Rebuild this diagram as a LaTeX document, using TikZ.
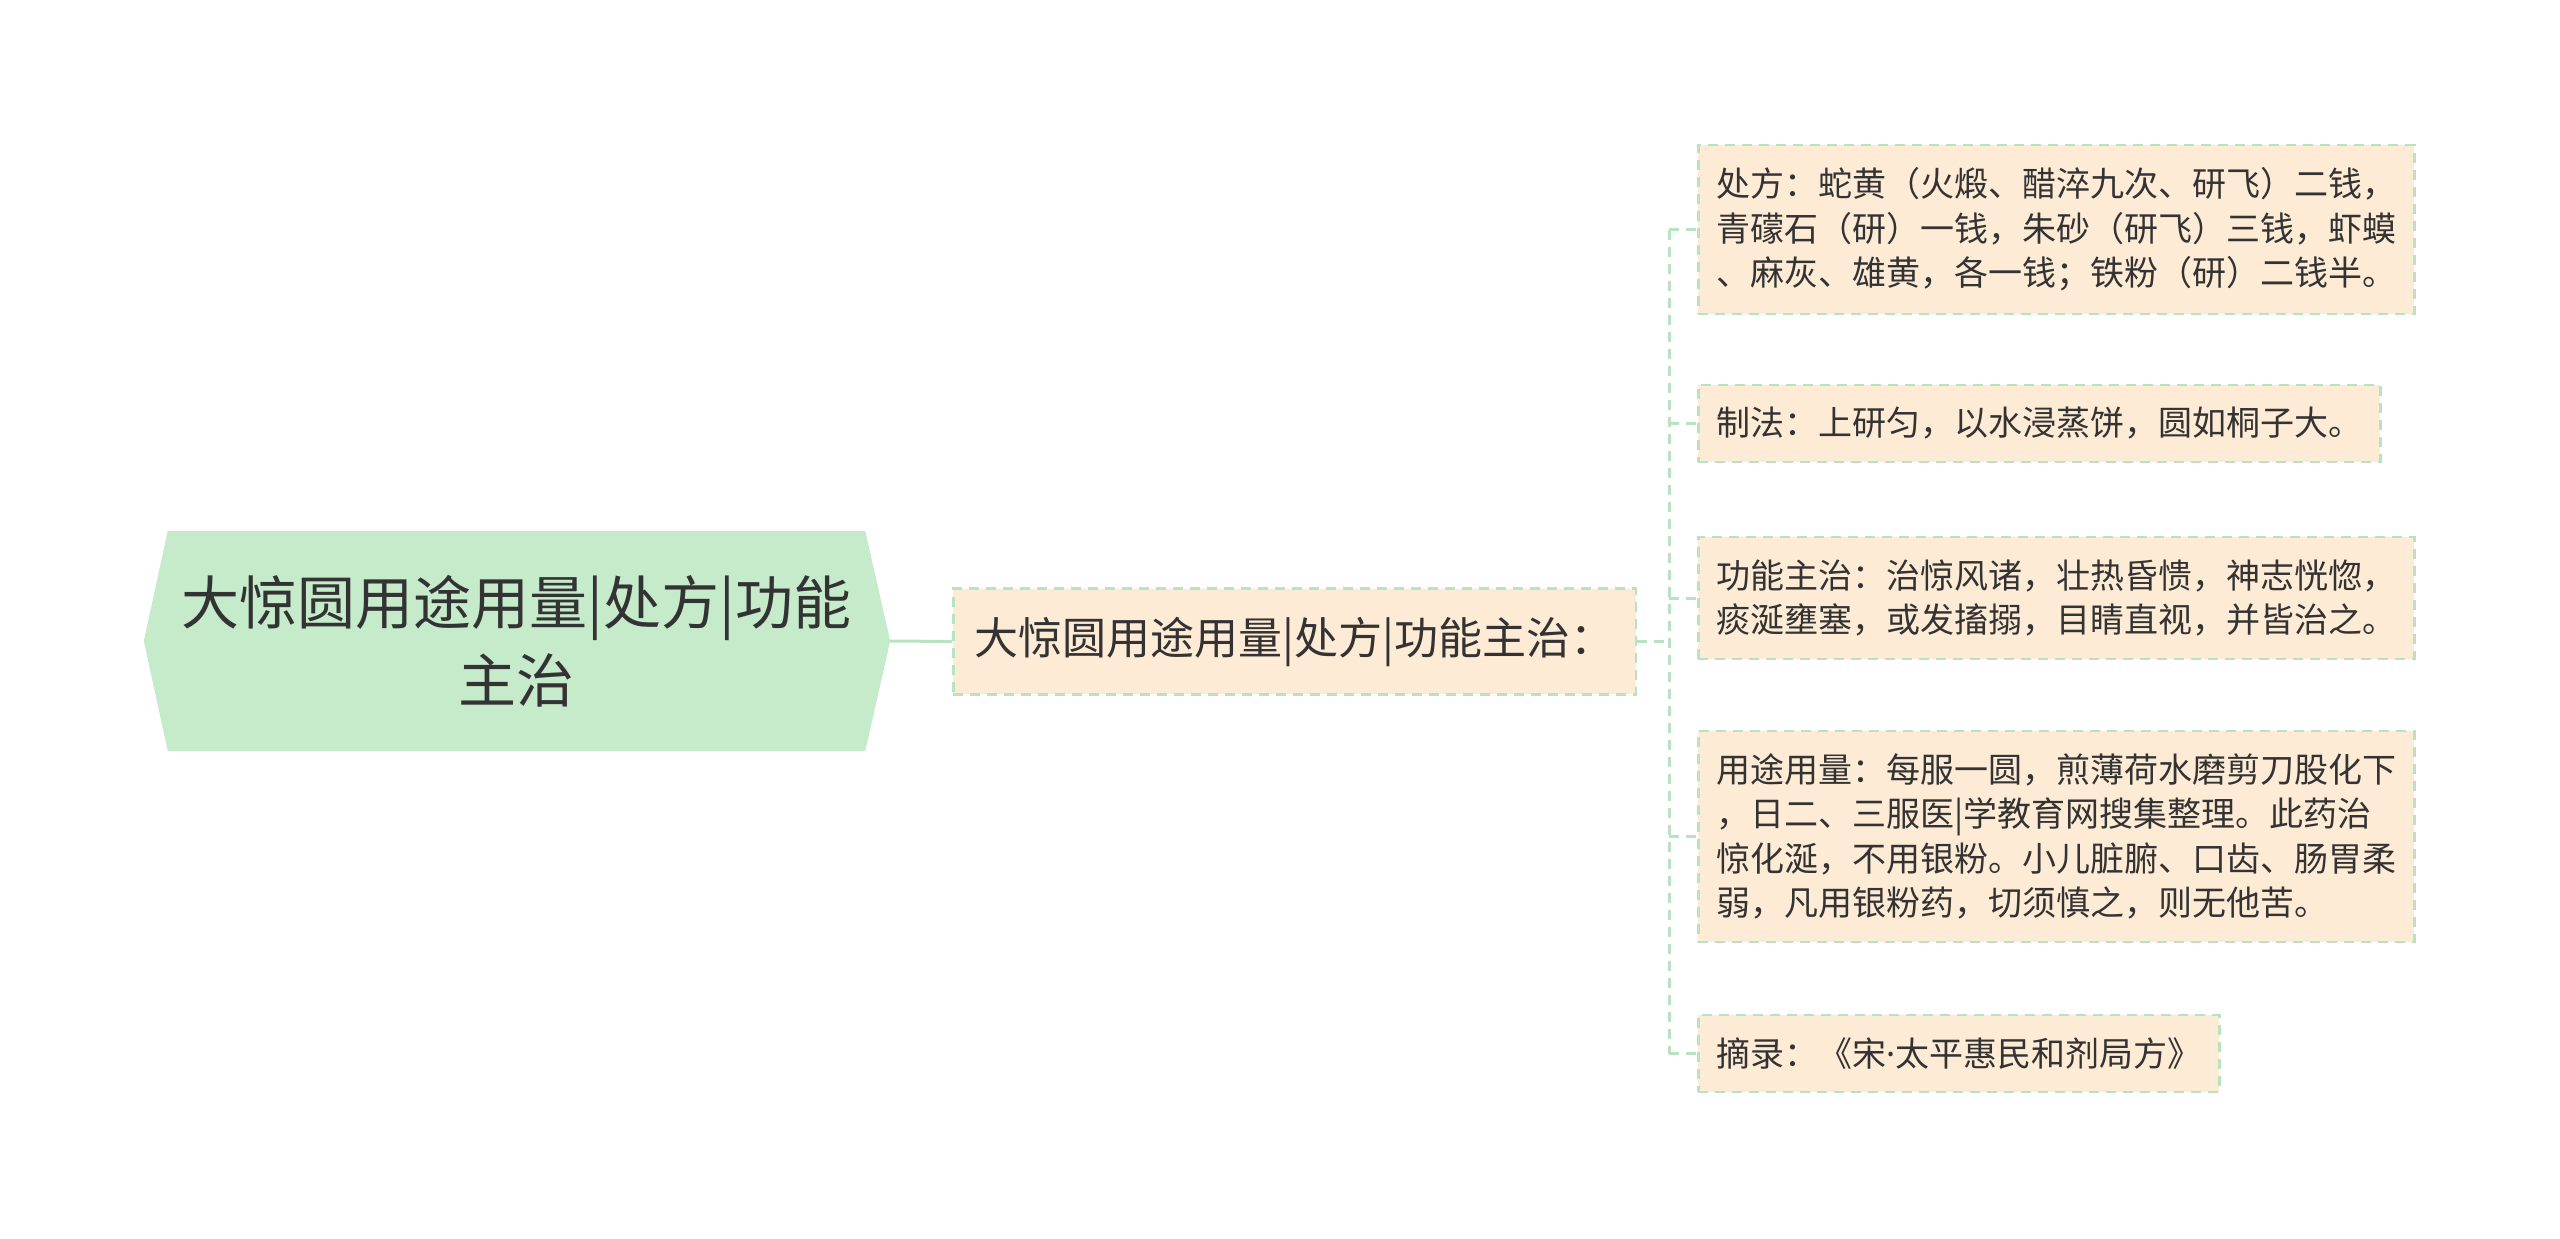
\documentclass[tikz,border=0pt]{standalone}
\usepackage{fontspec}
\setmainfont{Noto Sans CJK SC}
\newfontfamily\dotfont{Noto Sans}
\usetikzlibrary{backgrounds}

\definecolor{rootgreen}{HTML}{C5EBCB}
\definecolor{leafpeach}{HTML}{FDEBD5}
\definecolor{linegreen}{HTML}{B8E3C1}
\definecolor{inkgray}{HTML}{333333}

\begin{document}
\begin{tikzpicture}[x=1pt,y=-1pt,
  leaf/.style={draw=linegreen,line width=2.5pt,dash pattern=on 10pt off 7pt,fill=leafpeach,
    text=inkgray,anchor=west,align=left,inner xsep=18pt,inner ysep=22.5pt,
    font=\fontsize{34}{44.5}\selectfont},
  link/.style={draw=linegreen,line width=3pt,dash pattern=on 10pt off 7pt}]
  \useasboundingbox (0,0) rectangle (2560,1239);

  % root
  \node [text=inkgray,align=center,inner sep=2pt,minimum width=697pt,minimum height=220pt,
    font=\fontsize{58}{78}\selectfont] (root) at (516.5,641) {大惊圆用途用量|处方|功能\\主治};
  \begin{scope}[on background layer]
    \fill [rootgreen] ([xshift=-24pt]root.west) -- (root.north west) -- (root.north east)
      -- ([xshift=25pt]root.east) -- (root.south east) -- (root.south west) -- cycle;
  \end{scope}
  \coordinate (tip) at ([xshift=25pt]root.east);

  % middle
  \node [leaf,inner xsep=21.5pt,inner ysep=28pt,font=\fontsize{44}{50}\selectfont] (mid) at (952,641.5) {大惊圆用途用量|处方|功能主治：};

  % leaves
  \node [leaf] (recipe) at (1697,229.5) {处方：蛇黄（火煅、醋淬九次、研飞）二钱，\\青礞石（研）一钱，朱砂（研飞）三钱，虾蟆\\、麻灰、雄黄，各一钱；铁粉（研）二钱半。};
  \node [leaf] (method) at (1697,423.5) {制法：上研匀，以水浸蒸饼，圆如桐子大。};
  \node [leaf] (effect) at (1697,598) {功能主治：治惊风诸，壮热昏愦，神志恍惚，\\痰涎壅塞，或发搐搦，目睛直视，并皆治之。};
  \node [leaf] (usage) at (1697,836.5) {用途用量：每服一圆，煎薄荷水磨剪刀股化下\\，日二、三服医|学教育网搜集整理。此药治\\惊化涎，不用银粉。小儿脏腑、口齿、肠胃柔\\弱，凡用银粉药，切须慎之，则无他苦。};
  \node [leaf] (source) at (1697,1053.5) {摘录：《宋{\dotfont ·}太平惠民和剂局方》};

  % connectors
  \draw [linegreen,line width=3pt] (tip) -- (mid.west);
  \coordinate (trunk) at ([xshift=32pt]mid.east);
  \draw [link] (mid.east) -- (trunk);
  \draw [link] (trunk |- recipe.west) -- (trunk |- source.west);
  \foreach \leafname in {recipe,method,effect,usage,source}
    \draw [link] (trunk |- \leafname.west) -- (\leafname.west);
\end{tikzpicture}
\end{document}
